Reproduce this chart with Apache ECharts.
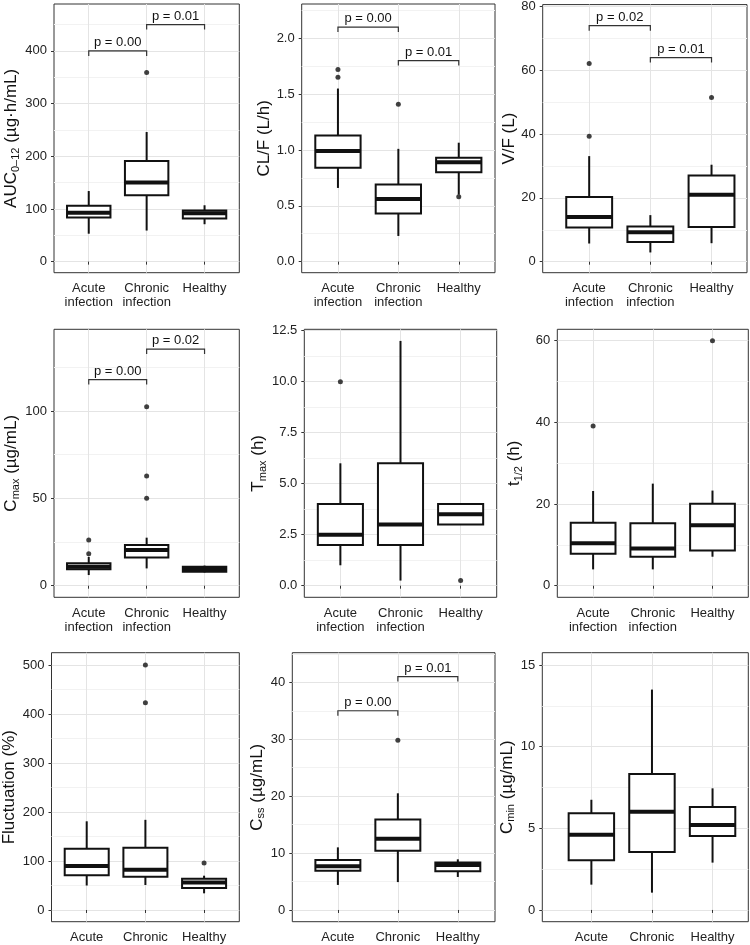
<!DOCTYPE html>
<html><head><meta charset="utf-8">
<script src="https://cdn.jsdelivr.net/npm/echarts@6/dist/echarts.min.js"></script>
<style>html,body{margin:0;padding:0;background:#fff}#c{width:750px;height:945px}</style>
</head><body><div id="c"></div>
<script>
// ---------- categories ----------
const catsLong = ['Acute\ninfection', 'Chronic\ninfection', 'Healthy'];
const catsShort = ['Acute', 'Chronic', 'Healthy'];

// ---------- data: [low whisker, Q1, median, Q3, high whisker] for Acute, Chronic, Healthy ----------
const aucBox = [[53, 84, 93, 106, 134], [59, 126, 150, 191, 246], [71, 82, 92, 97, 107]];
const aucOut = [[2, 359]];
const aucSig = [[1, 2, 400, 'p = 0.00'], [2, 3, 450, 'p = 0.01']];
const aucTicks = [0, 100, 200, 300, 400];

const clBox = [[0.66, 0.84, 0.99, 1.13, 1.55], [0.23, 0.43, 0.56, 0.69, 1.01], [0.60, 0.80, 0.89, 0.93, 1.065]];
const clOut = [[1, 1.65], [1, 1.72], [2, 1.41], [3, 0.58]];
const clSig = [[1, 2, 2.1, 'p = 0.00'], [2, 3, 1.8, 'p = 0.01']];
const clTicks = [0, 0.5, 1.0, 1.5, 2.0];

const vfBox = [[5.7, 10.7, 14.0, 20.3, 33.1], [2.9, 6.2, 9.2, 11.0, 14.6], [5.8, 10.9, 21.0, 27.0, 30.4]];
const vfOut = [[1, 39.3], [1, 62.1], [3, 51.5]];
const vfSig = [[1, 2, 74, 'p = 0.02'], [2, 3, 64, 'p = 0.01']];
const vfTicks = [0, 20, 40, 60, 80];

const cmaxBox = [[6.1, 9.4, 10.9, 12.8, 16.5], [9.9, 16.2, 20.4, 23.3, 27.5], [7.6, 8.0, 9.5, 10.9, 11.5]];
const cmaxOut = [[1, 18.3], [1, 26.2], [2, 50.1], [2, 62.8], [2, 102.5]];
const cmaxSig = [[1, 2, 118, 'p = 0.00'], [2, 3, 135.5, 'p = 0.02']];
const cmaxTicks = [0, 50, 100];

const tmaxBox = [[1.0, 2.0, 2.5, 4.0, 6.0], [0.25, 2.0, 3.0, 6.0, 12.0], [3.0, 3.0, 3.5, 4.0, 4.0]];
const tmaxOut = [[1, 10.0], [3, 0.25]];
const tmaxSig = [];
const tmaxTicks = [0, 2.5, 5.0, 7.5, 10.0, 12.5];

const thalfBox = [[4.0, 7.8, 10.4, 15.4, 23.2], [4.0, 7.1, 9.1, 15.3, 25.0], [7.1, 8.6, 14.8, 20.1, 23.3]];
const thalfOut = [[1, 39.1], [3, 60.0]];
const thalfSig = [];
const thalfTicks = [0, 20, 40, 60];

const flucBox = [[50, 71, 90, 125, 181], [51, 68, 82, 127, 184], [34, 45, 56, 64, 70]];
const flucOut = [[2, 423], [2, 500], [3, 96]];
const flucSig = [];
const flucTicks = [0, 100, 200, 300, 400, 500];

const cssBox = [[4.4, 6.9, 7.7, 8.8, 11.0], [4.9, 10.4, 12.5, 15.9, 20.5], [5.8, 6.8, 7.9, 8.35, 8.9]];
const cssOut = [[2, 29.8]];
const cssSig = [[1, 2, 35, 'p = 0.00'], [2, 3, 41, 'p = 0.01']];
const cssTicks = [0, 10, 20, 30, 40];

const cminBox = [[1.55, 3.05, 4.6, 5.92, 6.75], [1.06, 3.55, 6.02, 8.33, 13.5], [2.9, 4.53, 5.2, 6.3, 7.45]];
const cminOut = [];
const cminSig = [];
const cminTicks = [0, 5, 10, 15];

// ---------- layout ----------
const FONT = '"Liberation Sans", Arial, Helvetica, sans-serif';
const panels = [
  {name: '{n|AUC}{s|0–12}{n| (µg·h/mL)}', box: aucBox, out: aucOut, sig: aucSig, ticks: aucTicks, dec: 0, cats: catsLong,
   y: [-21, 489], x: [0.4, 3.6], g: [54, 4, 185.3, 268.7], gap: 29},
  {name: '{n|CL/F (L/h)}', box: clBox, out: clOut, sig: clSig, ticks: clTicks, dec: 1, cats: catsLong,
   y: [-0.099, 2.307], x: [0.4, 3.6], g: [301.7, 4, 193.3, 268.7], gap: 27},
  {name: '{n|V/F (L)}', box: vfBox, out: vfOut, sig: vfSig, ticks: vfTicks, dec: 0, cats: catsLong,
   y: [-3.45, 80.6], x: [0.24, 3.58], g: [542.7, 4, 204.3, 268.7], gap: 19},
  {name: '{n|C}{s|max}{n| (µg/mL)}', box: cmaxBox, out: cmaxOut, sig: cmaxSig, ticks: cmaxTicks, dec: 0, cats: catsLong,
   y: [-6.64, 146.8], x: [0.4, 3.6], g: [54, 329.3, 185.3, 268], gap: 31},
  {name: '{n|T}{s|max}{n| (h)}', box: tmaxBox, out: tmaxOut, sig: tmaxSig, ticks: tmaxTicks, dec: 1, cats: catsLong,
   y: [-0.57, 12.57], x: [0.4, 3.6], g: [304.3, 329.3, 192.4, 268], gap: 31},
  {name: '{n|t}{s|1/2}{n| (h)}', box: thalfBox, out: thalfOut, sig: thalfSig, ticks: thalfTicks, dec: 0, cats: catsLong,
   y: [-2.84, 62.8], x: [0.4, 3.6], g: [557.3, 329.3, 191, 268], gap: 33},
  {name: '{n|Fluctuation (%)}', box: flucBox, out: flucOut, sig: flucSig, ticks: flucTicks, dec: 0, cats: catsShort,
   y: [-23.9, 525.1], x: [0.4, 3.6], g: [50.7, 652.7, 188.6, 269], gap: 32},
  {name: '{n|C}{s|ss}{n| (µg/mL)}', box: cssBox, out: cssOut, sig: cssSig, ticks: cssTicks, dec: 0, cats: catsShort,
   y: [-2.06, 45.2], x: [0.24, 3.62], g: [292.3, 652.7, 202.7, 269], gap: 17},
  {name: '{n|C}{s|min}{n| (µg/mL)}', box: cminBox, out: cminOut, sig: cminSig, ticks: cminTicks, dec: 0, cats: catsShort,
   y: [-0.72, 15.76], x: [0.19, 3.59], g: [542.3, 652.7, 206, 269], gap: 13}
];

function minorsOf(ticks, range) {
  const step = ticks[1] - ticks[0];
  const res = [];
  for (let v = ticks[0] - step / 2; v <= range[1]; v += step) {
    if (v >= range[0]) res.push(+v.toFixed(6));
  }
  return res;
}

const grids = [], xAxes = [], yAxes = [], series = [];
panels.forEach((p, i) => {
  grids.push({left: p.g[0], top: p.g[1], width: p.g[2], height: p.g[3], show: true,
    borderColor: '#333', borderWidth: 1, backgroundColor: 'transparent', containLabel: false});
  xAxes.push({gridIndex: i, type: 'value', min: p.x[0], max: p.x[1],
    axisLine: {show: false},
    axisTick: {show: true, length: 3, lineStyle: {color: '#333', width: 1}, customValues: [1, 2, 3]},
    axisLabel: {customValues: [1, 2, 3], formatter: v => p.cats[Math.round(v) - 1], color: '#222',
      fontSize: 13, fontFamily: FONT, lineHeight: 14, margin: 9, hideOverlap: false},
    splitLine: {show: true, lineStyle: {color: '#e4e4e4', width: 1}}});
  yAxes.push({gridIndex: i, type: 'value', min: p.y[0], max: p.y[1], position: 'left',
    axisLine: {show: false},
    axisTick: {show: true, length: 3, lineStyle: {color: '#333', width: 1}, customValues: p.ticks},
    axisLabel: {customValues: p.ticks, formatter: v => v.toFixed(p.dec), color: '#222',
      fontSize: 13, fontFamily: FONT, margin: 7, showMinLabel: true, showMaxLabel: true},
    splitLine: {show: true, lineStyle: {color: '#e4e4e4', width: 1}},
    name: p.name, nameLocation: 'middle', nameGap: p.gap, nameRotate: 90,
    nameTextStyle: {fontFamily: FONT, fontSize: 17, color: '#111',
      rich: {n: {fontFamily: FONT, fontSize: 17, color: '#111', lineHeight: 20},
             s: {fontFamily: FONT, fontSize: 11, color: '#111', lineHeight: 20, verticalAlign: 'bottom'}}}});
  const mins = minorsOf(p.ticks, p.y);
  yAxes.push({gridIndex: i, type: 'value', min: p.y[0], max: p.y[1], position: 'right',
    axisLine: {show: false},
    axisTick: {show: false, customValues: mins},
    axisLabel: {show: false, customValues: mins},
    splitLine: {show: true, lineStyle: {color: '#f2f2f2', width: 1}}});

  series.push({type: 'custom', xAxisIndex: i, yAxisIndex: 2 * i, z: 3,
    data: p.box.map((b, k) => [k + 1].concat(b)),
    encode: {x: 0, y: [1, 2, 3, 4, 5]},
    renderItem: function (params, api) {
      const x = api.value(0);
      const lo = api.coord([x, api.value(1)]), q1 = api.coord([x, api.value(2)]),
            md = api.coord([x, api.value(3)]), q3 = api.coord([x, api.value(4)]),
            hi = api.coord([x, api.value(5)]);
      const hw = api.size([0.75, 0])[0] / 2;
      const col = '#111';
      return {type: 'group', children: [
        {type: 'line', shape: {x1: hi[0], y1: hi[1], x2: q3[0], y2: q3[1]}, style: {stroke: col, lineWidth: 2}},
        {type: 'line', shape: {x1: lo[0], y1: lo[1], x2: q1[0], y2: q1[1]}, style: {stroke: col, lineWidth: 2}},
        {type: 'rect', shape: {x: q3[0] - hw, y: q3[1], width: 2 * hw, height: q1[1] - q3[1]},
          style: {fill: '#fff', stroke: col, lineWidth: 2}},
        {type: 'line', shape: {x1: md[0] - hw, y1: md[1], x2: md[0] + hw, y2: md[1]}, style: {stroke: col, lineWidth: 4}}
      ]};
    }});
  series.push({type: 'scatter', xAxisIndex: i, yAxisIndex: 2 * i, z: 4, data: p.out,
    symbol: 'circle', symbolSize: 5, itemStyle: {color: '#111'}, silent: true});
  if (p.sig.length) {
    series.push({type: 'custom', xAxisIndex: i, yAxisIndex: 2 * i, z: 4,
      data: p.sig.map(s => [s[0], s[1], s[2]]),
      encode: {x: [0, 1], y: 2},
      renderItem: function (params, api) {
        const a = api.coord([api.value(0), api.value(2)]);
        const b = api.coord([api.value(1), api.value(2)]);
        const label = p.sig[params.dataIndex][3];
        return {type: 'group', children: [
          {type: 'polyline', shape: {points: [[a[0], a[1] + 5], [a[0], a[1]], [b[0], b[1]], [b[0], b[1] + 5]]},
            style: {stroke: '#333', fill: null, lineWidth: 1.2}},
          {type: 'text', x: (a[0] + b[0]) / 2, y: a[1] - 2,
            style: {text: label, align: 'center', verticalAlign: 'bottom', fontSize: 13, fontFamily: FONT, fill: '#111'}}
        ]};
      }});
  }
});

const chart = echarts.init(document.getElementById('c'), null, {renderer: 'canvas'});
chart.setOption({animation: false, backgroundColor: '#fff', grid: grids, xAxis: xAxes, yAxis: yAxes, series: series});
</script></body></html>
